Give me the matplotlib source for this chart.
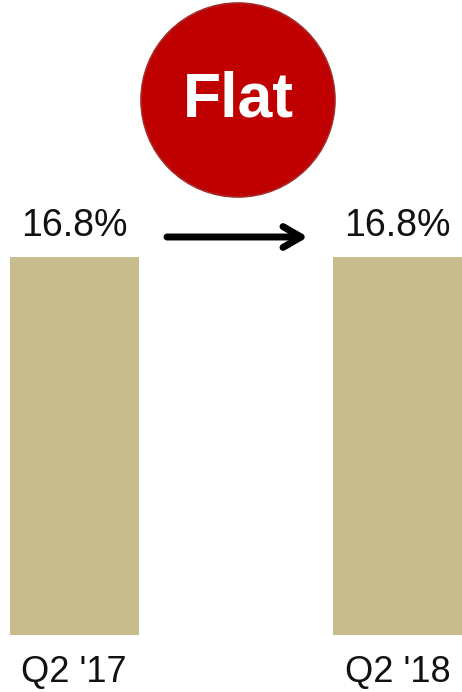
import matplotlib
matplotlib.use("Agg")
from matplotlib import pyplot as plt
from matplotlib.patches import Ellipse
import matplotlib.transforms as mtransforms

plt.rcParams["font.family"] = ["Liberation Sans", "DejaVu Sans"]

categories = ["Q2 '17", "Q2 '18"]
values = [16.8, 16.8]
value_labels = ["16.8%", "16.8%"]
badge_text = "Flat"

bar_color = "#C6BC8C"
badge_color = "#C00000"

fig = plt.figure(figsize=(4.62, 6.92), dpi=100)
ax = fig.add_axes([0, 0, 1, 1])

x = list(range(len(categories)))
ax.bar(x, values, width=0.4, color=bar_color)

ax.set_xlim(-0.2297, 1.1995)
ax.set_ylim(-2.533, 28.22)
ax.axis("off")

# value labels above bars
for xi, v, lab in zip(x, values, value_labels):
    ax.annotate(lab, (xi, v), xytext=(0, 15), textcoords="offset points",
                ha="center", va="baseline", fontsize=27, color="#111111")

# category labels under bars
trans = mtransforms.blended_transform_factory(ax.transData, ax.transAxes)
for xi, cat in zip(x, categories):
    ax.text(xi, 10 / 692, cat, transform=trans, ha="center", va="baseline",
            fontsize=26, color="#111111")

# arrow between the two labels
ax.annotate("", xy=(308 / 462, 1 - 237 / 692), xytext=(167 / 462, 1 - 237 / 692),
            xycoords="axes fraction", textcoords="axes fraction",
            arrowprops=dict(arrowstyle="->,head_length=1.3,head_width=0.75",
                            lw=5, color="black", capstyle="round",
                            joinstyle="round", shrinkA=0, shrinkB=0))

# red badge
circ = Ellipse((238 / 462, 1 - 100 / 692), 194 / 462, 194 / 692,
               transform=ax.transAxes, facecolor=badge_color,
               edgecolor="#A52A2A", lw=1.2, zorder=3)
ax.add_patch(circ)
ax.text(238 / 462, 1 - 100 / 692, badge_text, transform=ax.transAxes,
        ha="center", va="center", fontsize=45, fontweight="bold",
        color="white", zorder=4)

fig.savefig("out.png", dpi=100)
